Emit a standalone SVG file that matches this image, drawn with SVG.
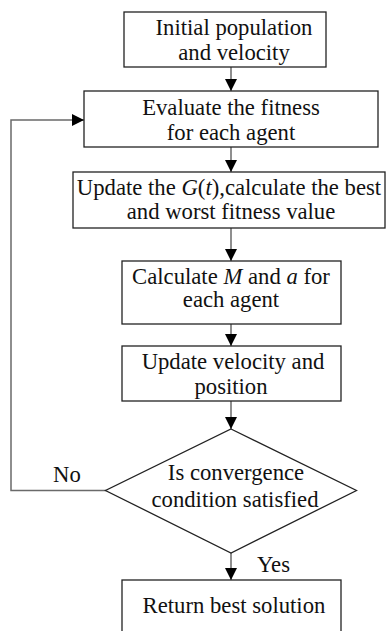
<svg xmlns="http://www.w3.org/2000/svg" width="386" height="631" viewBox="0 0 386 631">
  <style>
    .box { fill: #fff; stroke: #222; stroke-width: 1.3; }
    .lbl { font-family: "Liberation Serif", "Times New Roman", serif; font-size: 22.7px; fill: #111; text-anchor: middle; }
    .tag { font-family: "Liberation Serif", "Times New Roman", serif; font-size: 22.7px; fill: #111; }
    .edge { fill: none; stroke: #6a6a6a; stroke-width: 1.5; }
    .it { font-style: italic; }
  </style>
  <defs>
    <marker id="arrow" markerUnits="userSpaceOnUse" markerWidth="13" markerHeight="12" refX="12" refY="6" orient="auto">
      <path d="M0,0 L12,6 L0,12 Z" fill="#000"/>
    </marker>
  </defs>
  <rect width="386" height="631" fill="#fff"/>

  <g id="connectors">
    <line class="edge" x1="231" y1="67" x2="231" y2="91" marker-end="url(#arrow)"/>
    <line class="edge" x1="231" y1="147" x2="231" y2="172" marker-end="url(#arrow)"/>
    <line class="edge" x1="231" y1="228" x2="231" y2="261" marker-end="url(#arrow)"/>
    <line class="edge" x1="231" y1="324" x2="231" y2="346" marker-end="url(#arrow)"/>
    <line class="edge" x1="231" y1="401" x2="231" y2="429" marker-end="url(#arrow)"/>
    <line class="edge" x1="231" y1="553" x2="231" y2="580" marker-end="url(#arrow)"/>
    <polyline class="edge" points="106,490.5 11,490.5 11,120 84,120" marker-end="url(#arrow)"/>
  </g>

  <g id="init">
    <rect class="box" x="124" y="12" width="202" height="55"/>
    <text class="lbl" x="234" y="35">Initial population</text>
    <text class="lbl" x="234" y="60">and velocity</text>
  </g>

  <g id="evaluate">
    <rect class="box" x="84" y="91" width="294" height="56"/>
    <text class="lbl" x="231" y="115">Evaluate the fitness</text>
    <text class="lbl" x="231" y="140">for each agent</text>
  </g>

  <g id="update-g">
    <rect class="box" x="73" y="172" width="312" height="56"/>
    <text class="lbl" x="229" y="195">Update the <tspan class="it">G</tspan>(<tspan class="it">t</tspan>),calculate the best</text>
    <text class="lbl" x="231" y="219">and worst fitness value</text>
  </g>

  <g id="calc-ma">
    <rect class="box" x="122" y="261" width="219" height="63"/>
    <text class="lbl" x="231" y="284">Calculate <tspan class="it">M</tspan> and <tspan class="it">a</tspan> for</text>
    <text class="lbl" x="231" y="307">each agent</text>
  </g>

  <g id="update-v">
    <rect class="box" x="122" y="346" width="219" height="55"/>
    <text class="lbl" x="233" y="369">Update velocity and</text>
    <text class="lbl" x="231" y="394">position</text>
  </g>

  <g id="converge">
    <polygon class="box" points="231,429 356.5,490.5 231,553 105.5,490.5"/>
    <text class="lbl" x="236" y="480">Is convergence</text>
    <text class="lbl" x="235" y="507">condition satisfied</text>
  </g>

  <g id="result">
    <rect class="box" x="122" y="580" width="219" height="70"/>
    <text class="lbl" x="234" y="613">Return best solution</text>
  </g>

  <g id="edge-labels">
    <text class="tag" x="53" y="482">No</text>
    <text class="tag" x="257" y="572">Yes</text>
  </g>
</svg>
